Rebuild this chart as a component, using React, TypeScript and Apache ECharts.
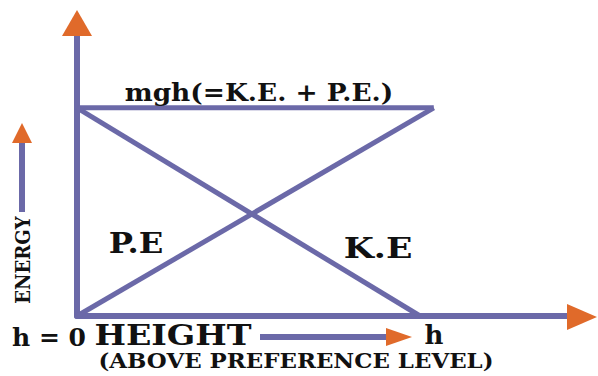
import React, { useEffect, useRef } from "react";
import * as echarts from "echarts";

// Height axis (0 = reference level, 1 = h); energy axis (1 = mgh)
const peData: number[][] = [[0, 0], [1.04, 1]];
const keData: number[][] = [[0, 1], [1, 0]];
const totalData: number[][] = [[0, 1], [1.04, 1]];

const totalLabel = "mgh(=K.E. + P.E.)";
const peLabel = "P.E";
const keLabel = "K.E";
const yAxisLabel = "ENERGY";
const xAxisLabel = "HEIGHT";
const xAxisSub = "(ABOVE PREFERENCE LEVEL)";
const originLabel = "h = 0";
const endLabel = "h";

const LINE = "#6b69a8";
const ORANGE = "#e06a2a";
const FONT = "DejaVu Serif";

export default function App() {
  const ref = useRef<HTMLDivElement>(null);
  useEffect(() => {
    if (!ref.current) return;
    const chart = echarts.init(ref.current, undefined, { renderer: "svg" });
    const txt = (text: string, x: number, y: number, size: number, extra: any = {}) => ({
      type: "text",
      z: 110,
      x,
      y,
      ...extra,
      style: {
        text,
        x: 0,
        y: 0,
        fill: "#111",
        font: `bold ${size}px "${FONT}", serif`,
        textAlign: "center",
        textVerticalAlign: "middle",
      },
    });
    const tri = (points: number[][]) => ({
      type: "polygon",
      z: 100,
      shape: { points },
      style: { fill: ORANGE },
    });
    const seg = (x1: number, y1: number, x2: number, y2: number) => ({
      type: "line",
      z: 99,
      shape: { x1, y1, x2, y2 },
      style: { stroke: LINE, lineWidth: 6 },
    });
    const lineSeries = (name: string, data: number[][]) => ({
      name,
      type: "line",
      data,
      symbol: "none",
      lineStyle: { color: LINE, width: 5 },
      z: 5,
    });
    chart.setOption({
      animation: false,
      grid: { left: 77, right: 27, top: 35, bottom: 60 },
      xAxis: {
        type: "value",
        min: 0,
        max: 1.44,
        axisLine: { show: true, lineStyle: { color: LINE, width: 6 } },
        axisTick: { show: false },
        axisLabel: { show: false },
        splitLine: { show: false },
      },
      yAxis: {
        type: "value",
        min: 0,
        max: 1.35,
        axisLine: { show: true, lineStyle: { color: LINE, width: 6 } },
        axisTick: { show: false },
        axisLabel: { show: false },
        splitLine: { show: false },
      },
      series: [
        lineSeries("total", totalData),
        lineSeries("PE", peData),
        lineSeries("KE", keData),
      ],
      graphic: [
        tri([[77, 10], [62, 36], [92, 36]]),
        tri([[597, 317], [567, 304], [567, 330]]),
        seg(22, 140, 22, 212),
        tri([[22, 123], [12, 143], [32, 143]]),
        seg(260, 337, 392, 337),
        tri([[412, 337], [386, 328], [386, 346]]),
        txt(totalLabel, 259, 92, 24, { scaleX: 1.1 }),
        txt(peLabel, 136, 243, 28, { scaleX: 1.15 }),
        txt(keLabel, 378, 248, 28, { scaleX: 1.24 }),
        txt(xAxisLabel, 173, 335, 28, { scaleX: 1.19 }),
        txt(originLabel, 49, 337, 25),
        txt(endLabel, 434, 335, 26),
        txt(xAxisSub, 296, 360, 21, { scaleX: 1.09 }),
        txt(yAxisLabel, 23, 260, 21, { rotation: Math.PI / 2, scaleX: 0.86 }),
      ],
    });
    return () => chart.dispose();
  }, []);
  return (
    <div
      ref={ref}
      style={{ position: "fixed", left: 0, top: 0, width: 598, height: 376, background: "#fff" }}
    />
  );
}
